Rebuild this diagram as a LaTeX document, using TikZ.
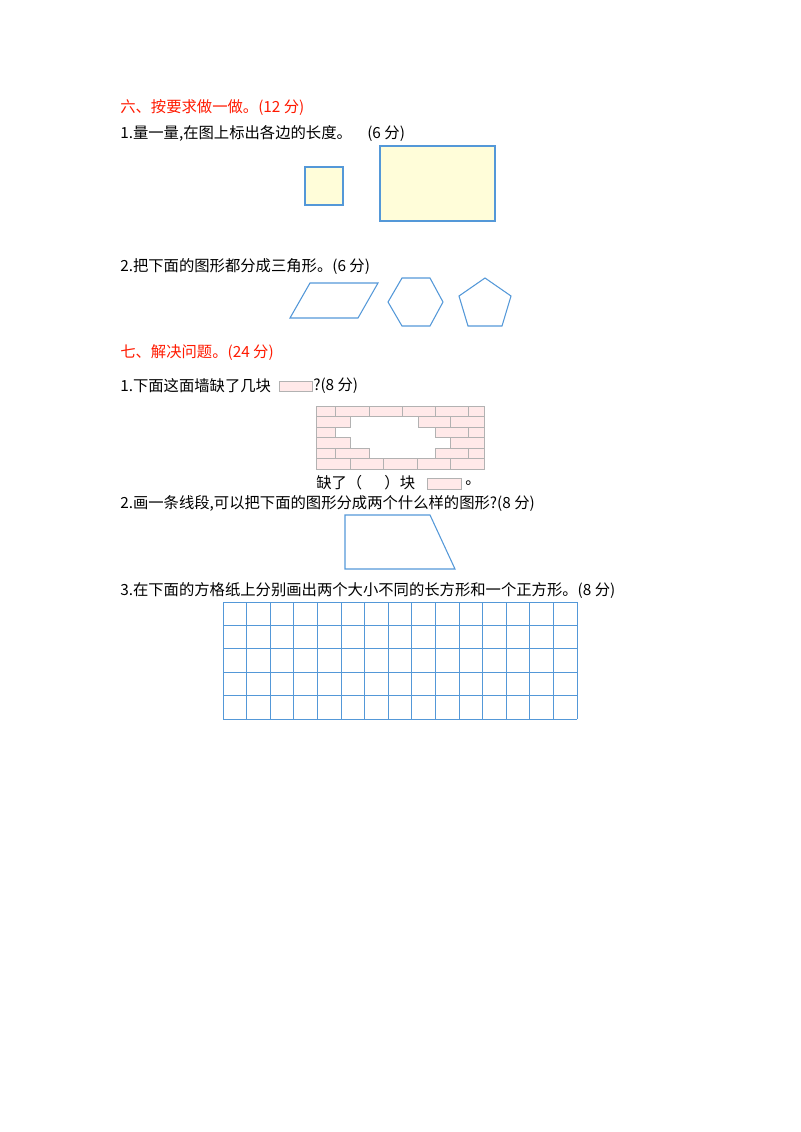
\documentclass[tikz,border=0pt]{standalone}
\usepackage{fontspec}
\setmainfont{Noto Sans CJK SC}
\begin{document}
\begin{tikzpicture}[x=0.75pt,y=-0.75pt,
  txt/.style={anchor=west,inner sep=0pt,font=\fontsize{11.5}{12}\selectfont},
  red/.style={txt,text=red!80!orange},
  shp/.style={draw=cyan!60!blue!70,line width=0.8pt},
  brick/.style={draw=gray!60,fill=pink!35,line width=0.4pt},
  grid/.style={draw=cyan!60!blue!70,line width=0.6pt}]
\useasboundingbox (0,0) rectangle (800,1132);
\node[red] (h6) at (120,108) {六、按要求做一做。(12 分)};
\node[txt] (q1) at (120,133) {1.量一量,在图上标出各边的长度。\quad (6 分)};
\draw[shp,fill=yellow!15] (305,167) rectangle (343,205);
\draw[shp,fill=yellow!15] (380,146) rectangle (495,221);
\node[txt] (q2) at (120,267) {2.把下面的图形都分成三角形。(6 分)};
\draw[shp] (290,318)--(310,283)--(378,283)--(358,318)--cycle;
\draw[shp] (388,302)--(402,278)--(430,278)--(443,302)--(430,326)--(402,326)--cycle;
\draw[shp] (485,278)--(511,296)--(502,326)--(468,326)--(459,296)--cycle;
\node[red] (h7) at (120,353) {七、解决问题。(24 分)};
\node[txt] (w1) at (120,386) {1.下面这面墙缺了几块};
\draw[brick] (279,381) rectangle (312,391);
\node[txt] (w1b) at (313,386) {?(8 分)};
% wall
\fill[white] (316,406) rectangle (484,469);
\foreach \a/\b in {316/335,335/369,369/402,402/435,435/468,468/484}{\draw[brick] (\a,406) rectangle (\b,416.5);}
\foreach \a/\b in {316/350,418/450,450/484}{\draw[brick] (\a,416.5) rectangle (\b,427);}
\foreach \a/\b in {316/335,435/468,468/484}{\draw[brick] (\a,427) rectangle (\b,437.5);}
\foreach \a/\b in {316/350,450/484}{\draw[brick] (\a,437.5) rectangle (\b,448);}
\foreach \a/\b in {316/335,335/369,435/468,468/484}{\draw[brick] (\a,448) rectangle (\b,458.5);}
\foreach \a/\b in {316/350,350/383,383/417,417/450,450/484}{\draw[brick] (\a,458.5) rectangle (\b,469);}
\node[txt] (lack) at (316,483) {缺了（\quad\ \ ）块};
\draw[brick] (427,478) rectangle (461,489);
\node[txt] (dot) at (465,483) {。};
\node[txt] (q22) at (120,504) {2.画一条线段,可以把下面的图形分成两个什么样的图形?(8 分)};
\draw[shp] (345,515)--(430,515)--(455,569)--(345,569)--cycle;
\node[txt] (q3) at (120,591) {3.在下面的方格纸上分别画出两个大小不同的长方形和一个正方形。(8 分)};
\foreach \i in {0,...,15}{\draw[grid] (223+\i*23.6,602)--(223+\i*23.6,719);}
\foreach \j in {0,...,5}{\draw[grid] (223,602+\j*23.4)--(577,602+\j*23.4);}
\end{tikzpicture}
\end{document}
